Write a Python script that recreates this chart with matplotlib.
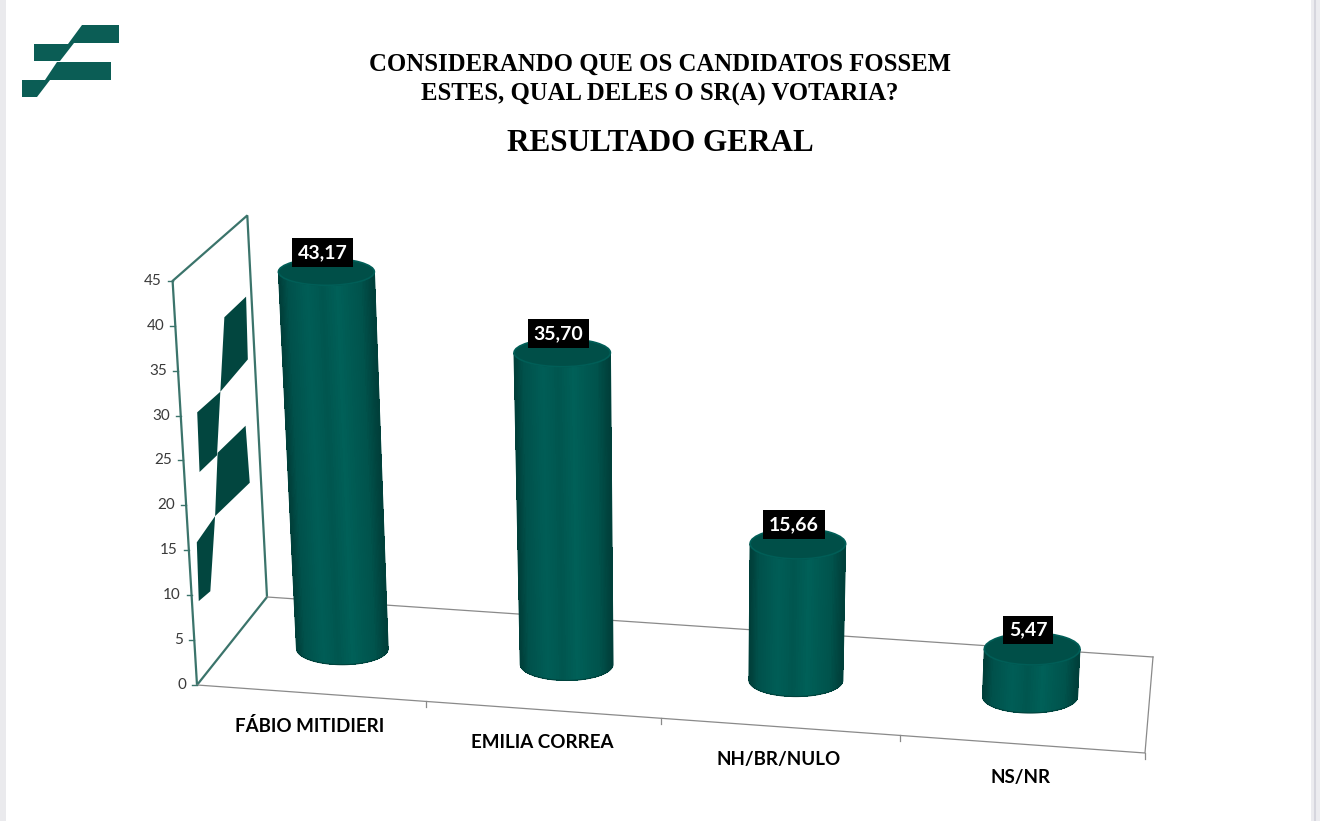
import numpy as np
import matplotlib.pyplot as plt
from matplotlib.patches import Polygon, Ellipse, Rectangle
from matplotlib.collections import PolyCollection
from matplotlib.colors import LinearSegmentedColormap

categories = ["FÁBIO MITIDIERI", "EMILIA CORREA", "NH/BR/NULO", "NS/NR"]
values = [43.17, 35.70, 15.66, 5.47]
value_text = ["43,17", "35,70", "15,66", "5,47"]
y_ticks = [0, 5, 10, 15, 20, 25, 30, 35, 40, 45]
y_max = 45
title_lines = ["CONSIDERANDO QUE OS CANDIDATOS FOSSEM",
               "ESTES, QUAL DELES O SR(A) VOTARIA?"]
subtitle = "RESULTADO GERAL"

TEAL = "#0b5d55"
WALL_EDGE = "#3b746b"
FLOOR_EDGE = "#8a8a8a"
SANS = ["Lato", "DejaVu Sans"]
SERIF = ["Liberation Serif", "DejaVu Serif"]

# floor of the 3-D box in pixels: front-left, front-right, back-left, back-right
FL = np.array([197.0, 685.0])
FR = np.array([1145.0, 753.0])
BL = np.array([267.0, 597.0])
BR = np.array([1153.0, 657.0])
VX, LEAN = 680.0, 1.25e-4  # verticals converge a little toward x=VX


def proj(u, v, z):
    # u: 0..1 across categories, v: 0 front .. 1 back, z: value units
    u = u - 0.043 * u * (1 - u)
    front = FL + u * (FR - FL)
    back = BL + u * (BR - BL)
    fx, fy = front + v * (back - front)
    h = z * (8.98 - 0.5 * v)
    return fx + (fx - VX) * LEAN * h, fy - h


side_cmap = LinearSegmentedColormap.from_list("side", [
    (0.0, "#003c37"), (0.1, "#00514b"), (0.3, "#005d56"), (0.47, "#00564f"),
    (0.62, "#006058"), (0.86, "#00534c"), (1.0, "#003e39")])


def cylinder(ax, u, value):
    bx, by = proj(u, 0.5, 0)
    tx, ty = proj(u, 0.5, value)
    h = by - ty
    a0 = 45.8 + 0.00247 * (bx - 342)
    a1 = a0 * (1 + LEAN * h)
    b0 = 13.5 + 0.0066 * (by - 271)
    b1 = 13.5 + 0.0066 * (ty - 271)
    th = np.linspace(np.pi, 0, 61)
    xb, yb = bx + a0 * np.cos(th), by + b0 * np.sin(th)
    xt, yt = tx + a1 * np.cos(th), ty + b1 * np.sin(th)
    quads = [[(xb[i], yb[i]), (xb[i + 1], yb[i + 1]), (xt[i + 1], yt[i + 1]), (xt[i], yt[i])]
             for i in range(len(th) - 1)]
    p = (1 + np.cos(0.5 * (th[:-1] + th[1:]))) / 2
    ax.add_collection(PolyCollection(quads, facecolors=side_cmap(p), edgecolors="none",
                                     linewidths=0, antialiased=False, zorder=3))
    outline = list(zip(xb, yb)) + list(zip(xt[::-1], yt[::-1]))
    ax.add_patch(Polygon(outline, closed=True, fc="none", ec="#00423c", lw=0.8, zorder=3.5))
    ax.add_patch(Ellipse((tx, ty), 2 * a1, 2 * b1, fc="#004f48", ec="#005e57",
                         lw=1.2, zorder=4))
    return tx, ty


fig = plt.figure(figsize=(13.2, 8.21), dpi=100)
ax = fig.add_axes([0, 0, 1, 1])
ax.set_xlim(0, 1320)
ax.set_ylim(821, 0)
ax.axis("off")

# page edges
ax.add_patch(Rectangle((0, 0), 6, 821, fc="#eaeaed", ec="none"))
ax.add_patch(Rectangle((1311, 0), 9, 821, fc="#ececf0", ec="none"))
ax.plot([1315, 1315], [0, 821], color="#d6d6de", lw=1.5)

# header logo
logo = [[(34, 44), (68, 44), (82, 25), (119, 25), (119, 43), (74, 43), (60, 61), (34, 61)],
        [(22, 80), (45, 80), (57, 62), (111, 62), (111, 80), (50, 80), (37, 97), (22, 97)]]
for shape in logo:
    ax.add_patch(Polygon(shape, closed=True, fc=TEAL, ec="none"))

# titles
ax.text(660, 64, title_lines[0], ha="center", va="center", fontsize=17.8,
        fontweight="bold", family=SERIF)
ax.text(660, 94.5, title_lines[1], ha="center", va="center", fontsize=17.8,
        fontweight="bold", family=SERIF)
ax.text(660, 143.5, subtitle, ha="center", va="center", fontsize=22.4,
        fontweight="bold", family=SERIF)

# back wall with the logo printed on it
wall = [proj(0, 0, 0), proj(0, 1, 0), proj(0, 1, y_max), proj(0, 0, y_max)]
ax.add_patch(Polygon(wall, closed=True, fc="white", ec=WALL_EDGE, lw=1.6, zorder=1))
wall_logo = [[(0.635, 36.0), (0.93, 36.0), (0.91, 28.8), (0.53, 28.3),
              (0.44, 21.8), (0.20, 22.0), (0.215, 28.6), (0.53, 28.3)],
             [(0.45, 22.0), (0.835, 21.7), (0.85, 14.9), (0.37, 15.5),
              (0.25, 8.1), (0.09, 8.5), (0.11, 14.9), (0.37, 15.5)]]
for shape in wall_logo:
    ax.add_patch(Polygon([proj(0, v, z) for v, z in shape], closed=True,
                         fc="#02463f", ec="none", zorder=1.5))

# floor outline
ax.plot(*zip(proj(0, 1, 0), proj(1, 1, 0)), color=FLOOR_EDGE, lw=0.9, zorder=2)
ax.plot(*zip(proj(0, 0, 0), proj(1, 0, 0), proj(1, 1, 0)), color=FLOOR_EDGE,
        lw=0.9, zorder=2)
for k in range(1, len(categories) + 1):
    x, y = proj(k / len(categories), 0, 0)
    ax.plot([x, x], [y, y + 6], color=FLOOR_EDGE, lw=0.9, zorder=2)

# value axis
for t in y_ticks:
    x, y = proj(0, 0, t)
    ax.plot([x - 5, x], [y, y], color=WALL_EDGE, lw=1.0, zorder=2)
    ax.text(x - 11, y, str(t), ha="right", va="center", fontsize=11,
            color="#3a3a3a", family=SANS)

# cylinders, values, categories
n = len(categories)
for i, (name, val, txt) in enumerate(zip(categories, values, value_text)):
    u = (i + 0.5) / n
    tx, ty = cylinder(ax, u, val)
    ax.text(tx - 4, ty - 19, txt, ha="center", va="center", fontsize=14,
            fontweight="bold", color="white", family=SANS, zorder=6,
            bbox=dict(boxstyle="square,pad=0.3", fc="black", ec="none"))
    x, y = proj(u, 0, 0)
    ax.text(x - 1, y + 33, name, ha="center", va="center", fontsize=13.5,
            fontweight="bold", color="black", family=SANS)

fig.savefig("out.png", dpi=100)
